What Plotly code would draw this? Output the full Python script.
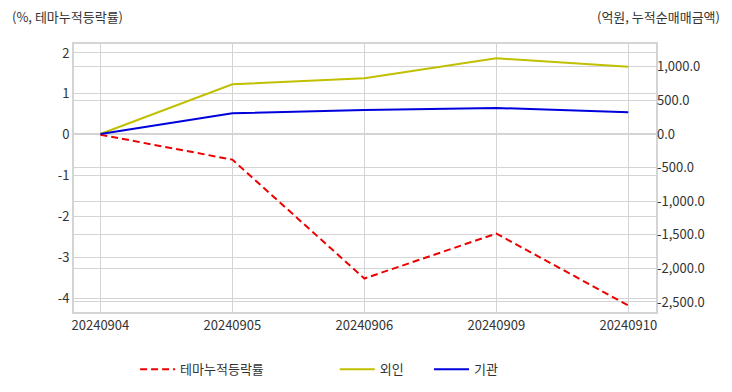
import plotly.graph_objects as go

dates = ["20240904", "20240905", "20240906", "20240909", "20240910"]
theme_rate = [0.0, -0.61, -3.52, -2.42, -4.18]
foreign = [0.0, 740.0, 829.0, 1127.0, 1001.0]
institution = [0.0, 308.0, 357.0, 387.0, 323.0]

left_ticks = [2, 1, 0, -1, -2, -3, -4]
left_tick_labels = ["2", "1", "0", "-1", "-2", "-3", "-4"]
right_ticks = [1000, 500, 0, -500, -1000, -1500, -2000, -2500]
right_tick_labels = ["1,000.0", "500.0", "0.0", "-500.0", "-1,000.0",
                     "-1,500.0", "-2,000.0", "-2,500.0"]

FONT = "Noto Sans CJK KR"
GRID = "#d4d4d4"
TXT = "#333333"

fig = go.Figure()
fig.add_trace(go.Scatter(x=dates, y=theme_rate, name="테마누적등락률", mode="lines",
                         line=dict(color="#ee0000", width=2, dash="7px,4px"), yaxis="y",
                         legend="legend"))
fig.add_trace(go.Scatter(x=dates, y=foreign, name="외인", mode="lines",
                         line=dict(color="#c0c000", width=2), yaxis="y2",
                         legend="legend2"))
fig.add_trace(go.Scatter(x=dates, y=institution, name="기관", mode="lines",
                         line=dict(color="#0000dd", width=2), yaxis="y2",
                         legend="legend3"))

leg_common = dict(orientation="h", y=-0.158, yanchor="top",
                  font=dict(size=13, color=TXT), itemwidth=35,
                  bgcolor="rgba(0,0,0,0)")

fig.update_layout(
    width=732, height=392,
    margin=dict(l=66, r=84, t=36, b=88, autoexpand=False),
    paper_bgcolor="white", plot_bgcolor="white",
    font=dict(family=FONT, size=13, color=TXT),
    xaxis=dict(type="category", range=[-0.2, 4.21], showgrid=True, gridcolor=GRID,
               showline=True, linecolor=GRID, linewidth=2, mirror=True,
               ticks="", tickfont=dict(size=13, color=TXT), zeroline=False),
    yaxis=dict(range=[-4.34, 2.22], tickvals=left_ticks, ticktext=left_tick_labels,
               showgrid=True, gridcolor=GRID,
               zeroline=False, showline=True, linecolor=GRID, linewidth=2, mirror=True,
               ticks="", tickfont=dict(size=13, color=TXT)),
    yaxis2=dict(range=[-2649, 1339], tickvals=right_ticks, ticktext=right_tick_labels,
                overlaying="y", side="right", showgrid=True, gridcolor=GRID,
                zeroline=False, showline=False, ticks="",
                tickfont=dict(size=13, color=TXT)),
    legend=dict(x=0.105, xanchor="left", **leg_common),
    legend2=dict(x=0.448, xanchor="left", **leg_common),
    legend3=dict(x=0.610, xanchor="left", **leg_common),
    showlegend=True,
    annotations=[
        dict(text="(%, 테마누적등락률)", xref="paper", yref="paper", x=-0.110, y=1.0,
             xanchor="left", yanchor="bottom", yshift=16, showarrow=False,
             font=dict(size=13, color=TXT)),
        dict(text="(억원, 누적순매매금액)", xref="paper", yref="paper", x=1.113, y=1.0,
             xanchor="right", yanchor="bottom", yshift=16, showarrow=False,
             font=dict(size=13, color=TXT)),
    ],
)

fig.write_html("out.html")
